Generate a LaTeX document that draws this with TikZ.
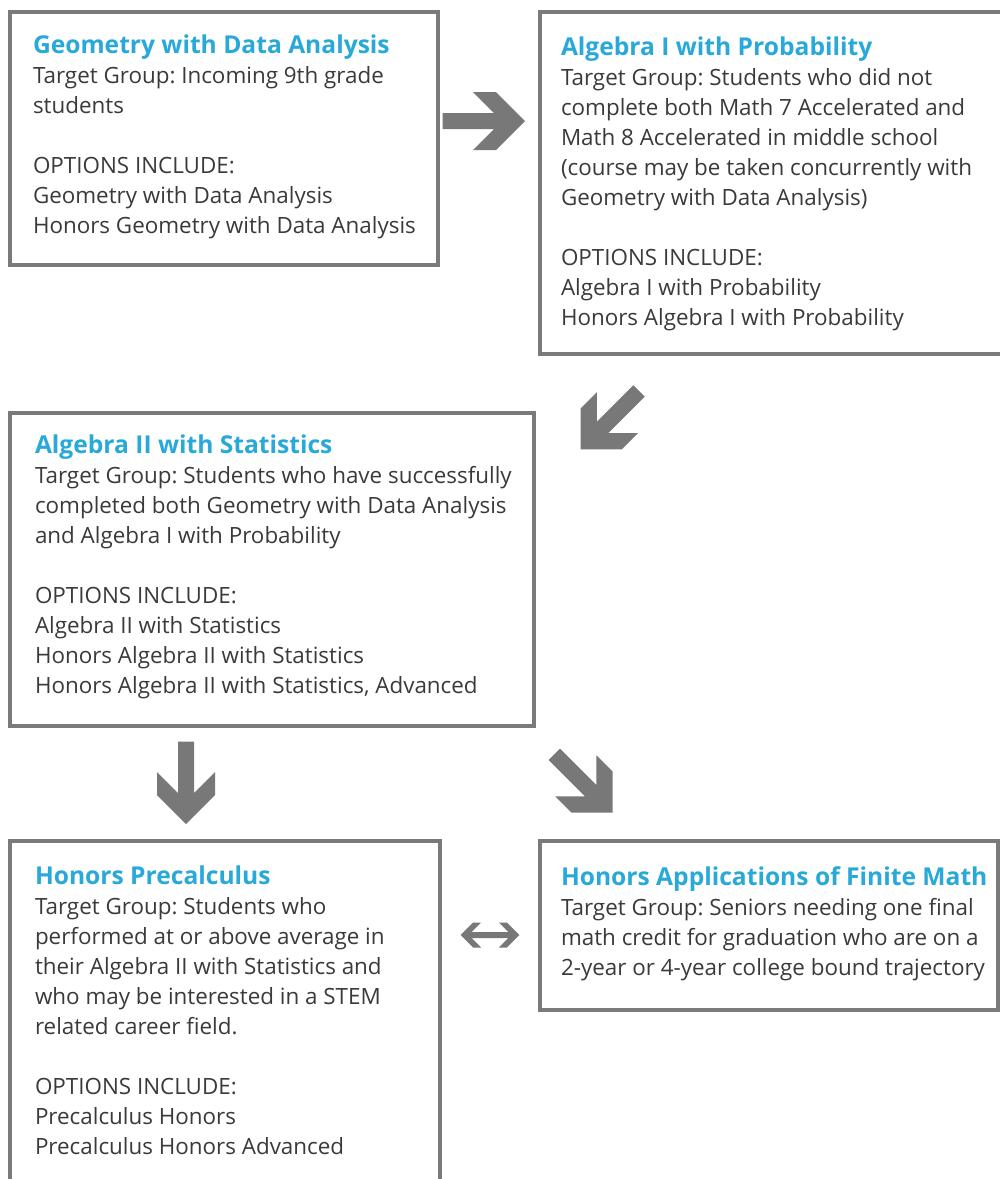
\documentclass[tikz,border=0pt]{standalone}
\usepackage{fontspec}
\setmainfont{Open Sans}
\definecolor{ttlblue}{RGB}{40,169,218}
\definecolor{bodygray}{RGB}{58,58,58}
\definecolor{framegray}{RGB}{122,122,122}
\definecolor{arrowgray}{RGB}{120,120,120}
\newcommand{\ttl}[1]{{\fontsize{24.6}{30}\selectfont\bfseries\color{ttlblue}#1}}
\newenvironment{boxtxt}[1]{\begin{minipage}[t]{#1}\fontsize{22.4}{30}\selectfont\frenchspacing\parindent=0pt\noindent\color{bodygray}}{\end{minipage}}
\tikzset{
  frame/.style={draw=framegray, line width=4pt, rectangle, inner sep=0pt, outer sep=0pt, anchor=north west, fill=white},
  txt/.style={anchor=base west, inner sep=0pt, outer sep=0pt},
  blockarrow/.pic={\fill[arrowgray] (0,0) -- (-29,29) -- (-52,29) -- (-31,8) -- (-82.5,8) -- (-82.5,-8) -- (-31,-8) -- (-52,-29) -- (-29,-29) -- cycle;},
  dblarrow/.pic={\fill[arrowgray] (-29.3,0) -- (-16.8,-12.5) -- (-8.8,-12.5) -- (-18.3,-3) -- (18.3,-3) -- (8.8,-12.5) -- (16.8,-12.5) -- (29.3,0) -- (16.8,12.5) -- (8.8,12.5) -- (18.3,3) -- (-18.3,3) -- (-8.8,12.5) -- (-16.8,12.5) -- cycle;}
}
\begin{document}
\begin{tikzpicture}[x=1pt,y=-1pt]
\useasboundingbox (0,0) rectangle (1000,1179);
\clip (0,0) rectangle (1000,1179);
\fill[white] (0,0) rectangle (1000,1179);
% boxes
\node[frame, minimum width=428pt, minimum height=253pt] (b1) at (9.5,11.5) {};
\node[frame, minimum width=472pt, minimum height=342pt] (b2) at (540,11.5) {};
\node[frame, minimum width=524pt, minimum height=313pt] (b3) at (9.5,412.5) {};
\node[frame, minimum width=430pt, minimum height=360pt] (b4) at (9.5,841) {};
\node[frame, minimum width=458pt, minimum height=168.5pt] (b5) at (540,841) {};
% texts
\node[txt] (t1) at (33,53.3) {\begin{boxtxt}{420pt}\ttl{Geometry with Data Analysis}\\
Target Group: Incoming 9th grade\\
students\\[30pt]
OPTIONS INCLUDE:\\
Geometry with Data Analysis\\
Honors Geometry with Data Analysis\end{boxtxt}};
\node[txt] (t2) at (561,55) {\begin{boxtxt}{440pt}\ttl{Algebra I with Probability}\\
Target Group: Students who did not\\
complete both Math 7 Accelerated and\\
Math 8 Accelerated in middle school\\
(course may be taken concurrently with\\
Geometry with Data Analysis)\\[30pt]
OPTIONS INCLUDE:\\
Algebra I with Probability\\
Honors Algebra I with Probability\end{boxtxt}};
\node[txt] (t3) at (35,453.3) {\begin{boxtxt}{500pt}\ttl{Algebra II with Statistics}\\
Target Group: Students who have successfully\\
completed both Geometry with Data Analysis\\
and Algebra I with Probability\\[30pt]
OPTIONS INCLUDE:\\
Algebra II with Statistics\\
Honors Algebra II with Statistics\\
Honors Algebra II with Statistics, Advanced\end{boxtxt}};
\node[txt] (t4) at (35,884) {\begin{boxtxt}{400pt}\ttl{Honors Precalculus}\\
Target Group: Students who\\
performed at or above average in\\
their Algebra II with Statistics and\\
who may be interested in a STEM\\
related career field.\\[30pt]
OPTIONS INCLUDE:\\
Precalculus Honors\\
Precalculus Honors Advanced\end{boxtxt}};
\node[txt] (t5) at (561,885) {\begin{boxtxt}{440pt}\ttl{Honors Applications of Finite Math}\\
Target Group: Seniors needing one final\\
math credit for graduation who are on a\\
2-year or 4-year college bound trajectory\end{boxtxt}};
% arrows
\coordinate (a12) at (525,121);
\coordinate (a23) at (580.7,449.3);
\coordinate (a34) at (186,824);
\coordinate (a35) at (612.7,812.7);
\coordinate (a45) at (490,935);
\pic at (a12) {blockarrow};
\pic[rotate=-135] at (a23) {blockarrow};
\pic[rotate=-90] at (a34) {blockarrow};
\pic[rotate=-45] at (a35) {blockarrow};
\pic at (a45) {dblarrow};
\end{tikzpicture}
\end{document}
